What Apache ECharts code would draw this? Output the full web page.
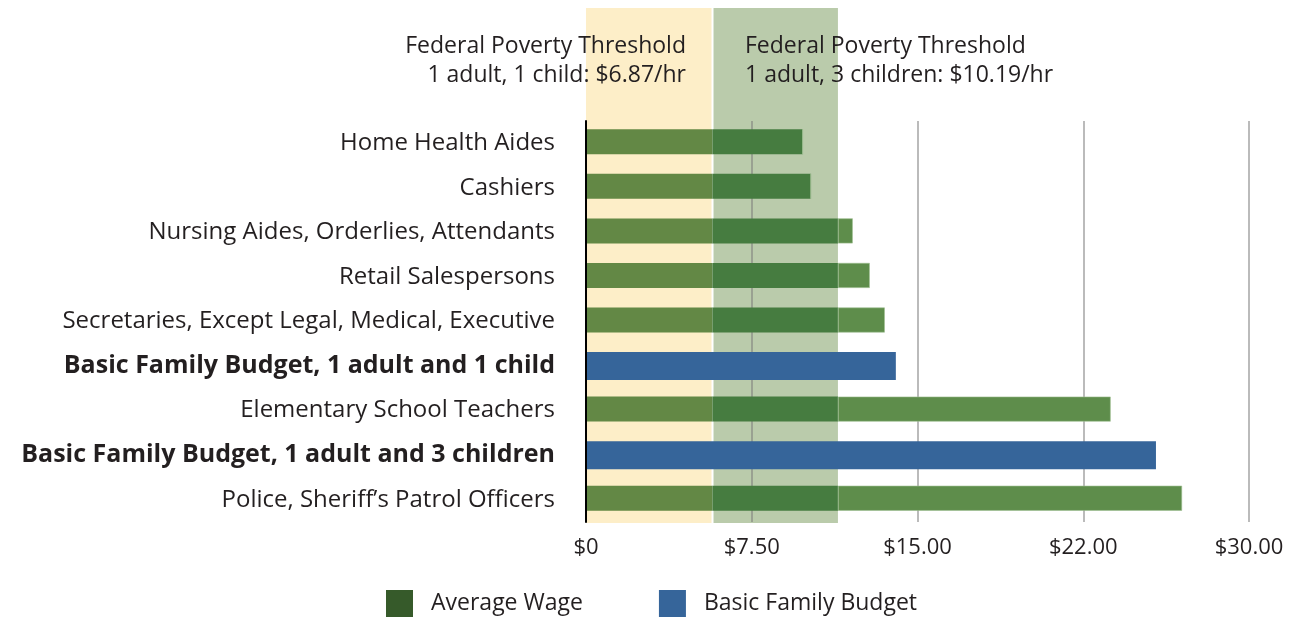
<!DOCTYPE html>
<html>
<head>
<meta charset="utf-8">
<title>Wages vs Basic Family Budget</title>
<script src="https://cdn.jsdelivr.net/npm/echarts@6/dist/echarts.min.js"></script>
<style>
  html, body { margin: 0; padding: 0; background: #fff; }
  #chart { width: 1291px; height: 620px; }
</style>
</head>
<body>
<div id="chart"></div>
<script>
const categories = [
  'Home Health Aides',
  'Cashiers',
  'Nursing Aides, Orderlies, Attendants',
  'Retail Salespersons',
  'Secretaries, Except Legal, Medical, Executive',
  'Basic Family Budget, 1 adult and 1 child',
  'Elementary School Teachers',
  'Basic Family Budget, 1 adult and 3 children',
  'Police, Sheriff\u2019s Patrol Officers'
];
// hourly values, '-' = no bar in that row
const averageWage = [9.8, 10.17, 12.07, 12.84, 13.52, '-', 23.74, '-', 26.97];
const familyBudget = ['-', '-', '-', '-', '-', 14.02, '-', 25.79, '-'];
const boldRows = [5, 7];

// shaded bands behind the bars (drawn positions, in $)
const yellowBand = [0, 5.68];
const greenBand = [5.77, 11.4];
const bandSplit = [5.72, 11.4];   // where green bar colour changes

const tickLabels = ['$0', '$7.50', '$15.00', '$22.00', '$30.00'];

const FONT = '"Open Sans", sans-serif';
const FS = 23;
const TXT = '#231f20';

// split each wage bar into the three colour segments
const seg = (lo, hi) => averageWage.map(v => v === '-' ? '-' : Math.max(0, Math.min(v, hi) - lo));
const wageA = seg(0, bandSplit[0]);
const wageB = seg(bandSplit[0], bandSplit[1]);
const wageC = seg(bandSplit[1], 100);

const chart = echarts.init(document.getElementById('chart'));

const option = {
  backgroundColor: '#fff',
  animation: false,
  textStyle: { fontFamily: FONT },
  grid: [
    { left: 586, right: 42, top: 121, bottom: 98 },
    { left: 586, right: 42, top: 8, bottom: 97 }
  ],
  xAxis: [
    {
      gridIndex: 0, type: 'value', min: 0, max: 30, interval: 7.5, z: 1,
      axisLine: { show: false }, axisTick: { show: false },
      splitLine: { show: true, lineStyle: { color: 'rgba(120,120,120,0.5)', width: 2 } },
      axisLabel: {
        margin: 15, fontSize: 22, color: TXT, fontFamily: FONT,
        formatter: (v) => tickLabels[Math.round(v / 7.5)]
      }
    },
    { gridIndex: 1, type: 'value', min: 0, max: 30, show: false }
  ],
  yAxis: [
    {
      gridIndex: 0, type: 'category', data: categories, inverse: true, z: 3,
      axisLine: { show: true, lineStyle: { color: '#000', width: 2 } },
      axisTick: { show: false },
      axisLabel: {
        margin: 31, fontSize: 24, color: TXT, fontFamily: FONT,
        formatter: (v, i) => boldRows.includes(i) ? '{b|' + v + '}' : v,
        rich: { b: { fontWeight: 'bold', fontSize: 25, color: TXT, fontFamily: FONT } }
      }
    },
    { gridIndex: 1, type: 'value', min: 0, max: 1, show: false }
  ],
  legend: {
    left: 386, top: 590, padding: 0, itemWidth: 27, itemHeight: 27, itemGap: 76,
    icon: 'rect',
    textStyle: { fontSize: FS, color: TXT, fontFamily: FONT, padding: [3, 0, 0, 13] },
    data: [
      { name: 'Average Wage', itemStyle: { color: '#365a2a' } },
      { name: 'Basic Family Budget', itemStyle: { color: '#36659a' } }
    ]
  },
  graphic: [
    {
      type: 'text', x: 686, y: 32, z: 10,
      style: {
        text: 'Federal Poverty Threshold\n1 adult, 1 child: $6.87/hr',
        align: 'right', font: FS + 'px ' + FONT, fill: TXT, lineHeight: 29
      }
    },
    {
      type: 'text', x: 745, y: 32, z: 10,
      style: {
        text: 'Federal Poverty Threshold\n1 adult, 3 children: $10.19/hr',
        align: 'left', font: FS + 'px ' + FONT, fill: TXT, lineHeight: 29
      }
    }
  ],
  series: [
    {
      name: 'bands', type: 'line', xAxisIndex: 1, yAxisIndex: 1, data: [], z: 0,
      silent: true,
      markArea: {
        silent: true, z: 0,
        label: { show: false },
        data: [
          [{ xAxis: yellowBand[0], itemStyle: { color: '#fdeec8' } }, { xAxis: yellowBand[1] }],
          [{ xAxis: greenBand[0], itemStyle: { color: '#bacbab' } }, { xAxis: greenBand[1] }]
        ]
      }
    },
    {
      name: 'Average Wage', type: 'bar', stack: 'wage', data: wageA, barWidth: 25, barGap: '-100%', z: 2,
      itemStyle: { color: '#638845' }
    },
    {
      name: 'wage-band', type: 'bar', stack: 'wage', data: wageB, barWidth: 25, z: 2,
      itemStyle: { color: '#467c40' }
    },
    {
      name: 'wage-over', type: 'bar', stack: 'wage', data: wageC, barWidth: 25, z: 2,
      itemStyle: { color: '#5e8d4b', borderColor: '#9fbf92', borderWidth: 0.6 }
    },
    {
      name: 'Basic Family Budget', type: 'bar', stack: 'budget', data: familyBudget, barWidth: 28, barGap: '-100%', z: 2,
      itemStyle: { color: '#36659a' }
    }
  ]
};

chart.setOption(option);
</script>
</body>
</html>
